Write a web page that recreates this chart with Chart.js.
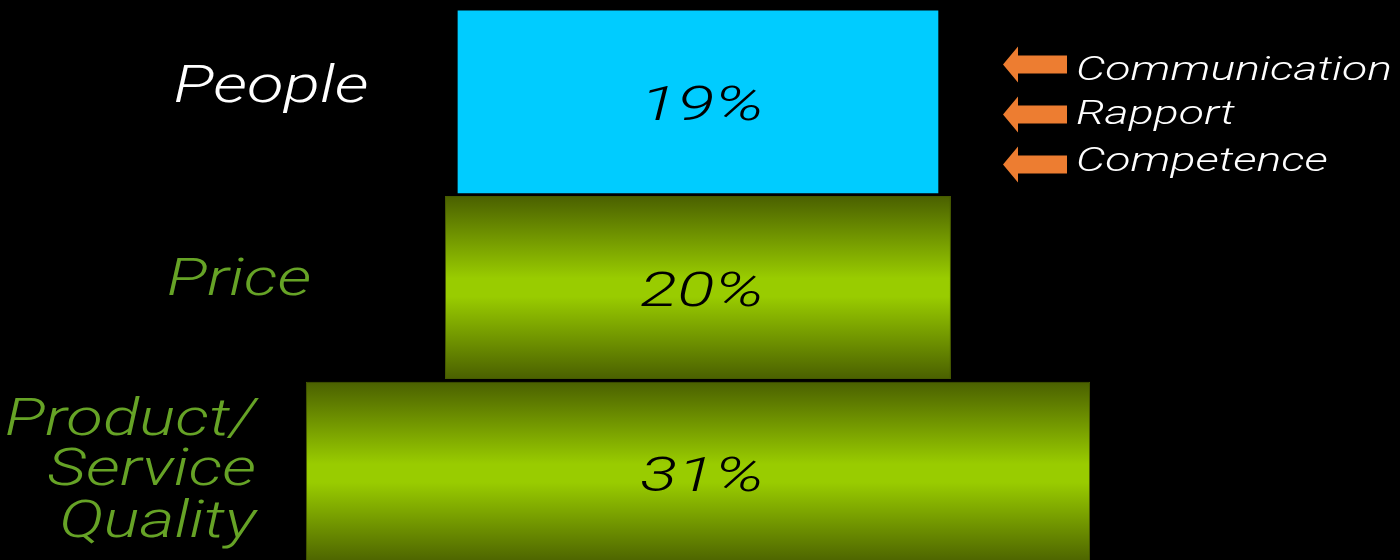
<!DOCTYPE html>
<html>
<head>
<meta charset="utf-8">
<script src="https://cdn.jsdelivr.net/npm/chart.js@4.4.1/dist/chart.umd.min.js"></script>
<style>
  html, body { margin: 0; padding: 0; background: #000; overflow: hidden; }
  #wrap { width: 1400px; height: 566px; position: relative; }
</style>
</head>
<body>
<div id="wrap"><canvas id="pyramid"></canvas></div>
<script>
// data
var categories = ['People', 'Price', 'Product/Service Quality'];
var shares = [19, 20, 31];
var shareLabels = ['19%', '20%', '31%'];
var sideLabels = [['People'], ['Price'], ['Product/', 'Service', 'Quality']];
var peopleFactors = ['Communication', 'Rapport', 'Competence'];

var FONT = '"Roboto", "DejaVu Sans", sans-serif';
var GREEN_TEXT = '#66a326';
var BAR_PCT = 0.985;

function barHalf(chart) {
    var y = chart.scales.y;
    return y.height / categories.length * BAR_PCT / 2;
}

// draw stretched italic text (the original font is an extended face)
function wideText(ctx, txt, x, y, size, weight, align, stretch, color) {
    ctx.save();
    ctx.font = 'italic ' + weight + ' ' + size + 'px ' + FONT;
    ctx.fillStyle = color;
    ctx.textAlign = align;
    ctx.textBaseline = 'alphabetic';
    ctx.translate(x, y);
    ctx.scale(stretch, 1);
    ctx.fillText(txt, 0, 0);
    ctx.restore();
}

function fitStretch(ctx, txt, size, weight, target) {
    ctx.save();
    ctx.font = 'italic ' + weight + ' ' + size + 'px ' + FONT;
    var w = ctx.measureText(txt).width;
    ctx.restore();
    return target / w;
}

var labelPlugin = {
    id: 'pyramidLabels',
    afterDatasetsDraw: function(chart) {
        var ctx = chart.ctx;
        var y = chart.scales.y;
        var x = chart.scales.x;
        var half = barHalf(chart);

        // left category names
        var sLeft = fitStretch(ctx, 'People', 51, 300, 195);
        var c0 = y.getPixelForValue(0);
        wideText(ctx, sideLabels[0][0], 271, c0, 51, 300, 'center', sLeft, '#ffffff');
        var c1 = y.getPixelForValue(1);
        wideText(ctx, sideLabels[1][0], 239, c1 + 7, 51, 300, 'center', sLeft, GREEN_TEXT);
        var c2 = y.getPixelForValue(2);
        var offs = [-38, 12, 64];
        var rightEdge = [256, 256, 256];
        sideLabels[2].forEach(function(t, i) {
            wideText(ctx, t, rightEdge[i], c2 + offs[i], 51, 300, 'right', sLeft, GREEN_TEXT);
        });

        // shares inside the bars
        var sPct = fitStretch(ctx, '20%', 48, 300, 124);
        var mid = x.getPixelForValue(0);
        shareLabels.forEach(function(t, i) {
            wideText(ctx, t, mid + 4, y.getPixelForValue(i) + 18, 48, 300, 'center', sPct, '#000000');
        });

        // what "people" is about: arrows and words
        var top = c0 - half;
        var sRight = fitStretch(ctx, 'Communication', 33, 300, 316);
        var rowY = [54, 104, 154];
        peopleFactors.forEach(function(t, i) {
            var cy = top + rowY[i];
            ctx.save();
            ctx.fillStyle = '#ed7d31';
            ctx.beginPath();
            ctx.moveTo(1003, cy);
            ctx.lineTo(1018, cy - 18);
            ctx.lineTo(1018, cy - 9);
            ctx.lineTo(1067, cy - 9);
            ctx.lineTo(1067, cy + 9);
            ctx.lineTo(1018, cy + 9);
            ctx.lineTo(1018, cy + 18);
            ctx.closePath();
            ctx.fill();
            ctx.restore();
            wideText(ctx, t, 1076, cy + [16, 10, 7][i], 33, 300, 'left', sRight, '#ffffff');
        });
    }
};

var ctx = document.getElementById('pyramid').getContext('2d');
var chart = new Chart(ctx, {
    type: 'bar',
    data: {
        labels: categories,
        datasets: [{
            data: shares.map(function(v) { return [-v / 2, v / 2]; }),
            backgroundColor: function(c) {
                if (c.dataIndex === 0) return '#00ccff';
                var ch = c.chart;
                if (!ch.chartArea || !ch.scales.y) return '#99cc00';
                var cy = ch.scales.y.getPixelForValue(c.dataIndex);
                var h = barHalf(ch);
                var g = ch.ctx.createLinearGradient(0, cy - h, 0, cy + h);
                g.addColorStop(0, '#4a6000');
                g.addColorStop(0.45, '#99cc00');
                g.addColorStop(0.55, '#99cc00');
                g.addColorStop(1, '#4a6000');
                return g;
            },
            borderColor: function(c) {
                return c.dataIndex === 0 ? '#00ccff' : '#465a00';
            },
            borderWidth: function(c) { return c.dataIndex === 0 ? 0 : 1; },
            borderSkipped: false,
            barPercentage: BAR_PCT,
            categoryPercentage: 1
        }]
    },
    options: {
        indexAxis: 'y',
        responsive: true,
        maintainAspectRatio: false,
        animation: false,
        layout: { padding: { top: 9, left: 0, right: 0, bottom: 0 } },
        plugins: {
            legend: { display: false },
            tooltip: { enabled: false }
        },
        scales: {
            x: { min: -27.59, max: 27.75, display: false },
            y: { display: false, offset: true }
        }
    },
    plugins: [labelPlugin]
});
</script>
</body>
</html>
